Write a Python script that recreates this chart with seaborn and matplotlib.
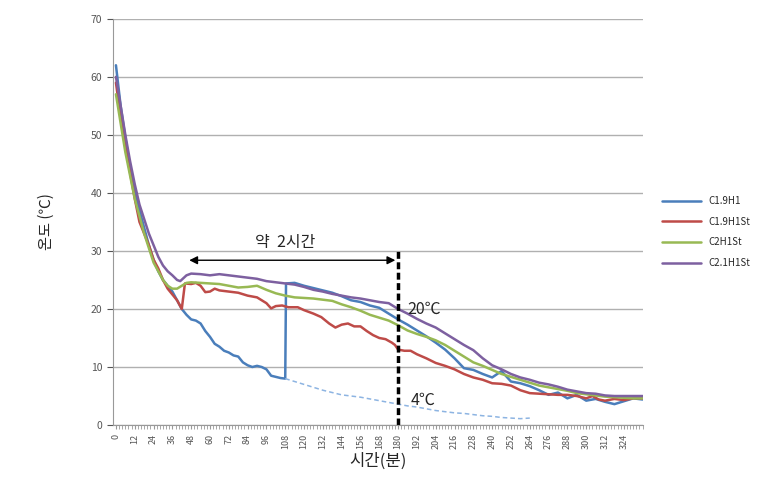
import numpy as np
import pandas as pd
import matplotlib
matplotlib.use("Agg")
import matplotlib.pyplot as plt
import seaborn as sns

# series names (legend)
names = ["C1.9H1", "C1.9H1St", "C2H1St", "C2.1H1St"]
colors = ["#4A7EBB", "#BE4B48", "#98B954", "#7D60A0"]

# C1.9H1
blue_t = [0, 3, 6, 9, 12, 15, 18, 21, 24, 27, 30, 33, 36, 39, 42, 45, 48, 51, 54, 57,
          60, 63, 66, 69, 72, 75, 78, 81, 84, 87, 90, 93, 96, 99, 102, 105, 108, 108.5,
          114, 120, 126, 132, 138, 144, 150, 156, 162, 168, 174, 180, 186, 192, 198, 204,
          210, 216, 222, 228, 234, 240, 246, 252, 258, 264, 270, 276, 282, 288, 294, 300,
          306, 312, 318, 324, 330, 336]
blue_v = [62, 55, 49.5, 44.5, 40.5, 37, 34, 31, 28.5, 26.5, 25, 24, 23, 21.5, 20, 19, 18.2, 18, 17.5, 16.2,
          15.2, 14, 13.5, 12.8, 12.5, 12, 11.8, 10.8, 10.3, 10, 10.2, 10, 9.6, 8.5, 8.3, 8.1, 8, 24.4,
          24.5, 24, 23.6, 23.2, 22.8, 22.2, 21.5, 21.2, 20.6, 20.2, 19.2, 18.2, 17.3, 16.3, 15.3, 14.2,
          13, 11.5, 9.8, 9.5, 8.8, 8.2, 9.3, 7.5, 7.2, 6.7, 6, 5.2, 5.6, 4.6, 5.2, 4.2,
          4.5, 4, 3.6, 4.1, 4.6, 4.4]

# C1.9H1St
red_t = [0, 3, 6, 9, 12, 15, 18, 21, 24, 27, 30, 33, 36, 39, 42, 44, 48, 51, 54, 57,
         60, 63, 66, 72, 78, 84, 90, 96, 99, 102, 106, 110, 116, 120, 126, 131, 136, 140,
         144, 148, 152, 156, 160, 164, 168, 172, 176, 178, 180, 184, 188, 192, 198, 204,
         210, 216, 222, 228, 234, 240, 246, 252, 258, 264, 270, 276, 282, 288, 294, 300,
         304, 308, 312, 318, 324, 330, 336]
red_v = [59, 53, 48, 43.5, 39, 35, 33, 31, 28.5, 27, 25, 23.5, 22.5, 21.5, 20, 24.4, 24.3, 24.5, 24, 22.9,
         23, 23.5, 23.2, 23, 22.8, 22.3, 22, 21, 20.1, 20.5, 20.6, 20.3, 20.3, 19.8, 19.2, 18.6, 17.5, 16.8,
         17.3, 17.5, 17, 17, 16.2, 15.5, 15, 14.8, 14.2, 13.8, 13, 12.8, 12.8, 12.2, 11.5, 10.7,
         10.2, 9.6, 8.8, 8.2, 7.8, 7.2, 7.1, 6.8, 6, 5.5, 5.4, 5.3, 5.2, 5.2, 5, 4.6,
         5, 4.4, 4.2, 4.5, 4.3, 4.6, 4.6]

# C2H1St
green_t = [0, 3, 6, 9, 12, 15, 18, 21, 24, 27, 30, 33, 36, 39, 42, 45, 48, 54, 60, 66,
           72, 78, 84, 90, 96, 102, 108, 114, 120, 126, 132, 138, 144, 150, 156, 162, 168,
           174, 180, 186, 192, 198, 204, 210, 216, 222, 228, 234, 240, 246, 252, 258, 264,
           270, 276, 282, 288, 294, 300, 306, 312, 318, 324, 330, 336]
green_v = [57, 52, 47, 43, 39, 36, 33, 30.5, 28, 26.5, 25, 24, 23.5, 23.5, 24, 24.5, 24.6, 24.5, 24.4, 24.3,
           24, 23.7, 23.8, 24, 23.3, 22.7, 22.3, 22, 21.9, 21.8, 21.6, 21.4, 20.8, 20.3, 19.7, 19, 18.5,
           18, 17.2, 16.3, 15.7, 15.2, 14.6, 13.8, 12.8, 11.8, 10.8, 10.2, 9.5, 8.8, 8.3, 7.8, 7.3,
           6.8, 6.5, 6.2, 5.9, 5.5, 5.3, 5.1, 4.9, 4.8, 4.7, 4.6, 4.6]

# C2.1H1St
purple_t = [0, 3, 6, 9, 12, 15, 18, 21, 24, 27, 30, 33, 36, 39, 41, 45, 48, 54, 60, 66,
            72, 78, 84, 90, 96, 102, 108, 114, 120, 126, 132, 138, 144, 150, 156, 162, 168,
            174, 180, 186, 192, 198, 204, 210, 216, 222, 228, 234, 240, 246, 252, 258, 264,
            270, 276, 282, 288, 294, 300, 306, 312, 318, 324, 330, 336]
purple_v = [60, 55, 50, 45.5, 41.5, 38, 35.5, 33, 31, 29, 27.5, 26.5, 25.8, 25, 24.8, 25.8, 26.1, 26, 25.8, 26,
            25.8, 25.6, 25.4, 25.2, 24.8, 24.6, 24.4, 24.2, 23.8, 23.3, 23, 22.6, 22.3, 22, 21.8, 21.5, 21.2,
            21, 20, 19.2, 18.3, 17.5, 16.8, 15.8, 14.8, 13.8, 12.9, 11.5, 10.3, 9.6, 8.8, 8.2, 7.8,
            7.3, 7, 6.6, 6.1, 5.8, 5.5, 5.4, 5.1, 5, 5, 5, 5]

# 4 degC storage branch of C1.9H1 (dashed)
cold_t = [108, 114, 120, 126, 132, 138, 144, 150, 156, 162, 168, 174, 180, 186, 192, 198,
          204, 210, 216, 222, 228, 234, 240, 246, 252, 258, 264]
cold_v = [8, 7.5, 7, 6.5, 6, 5.6, 5.2, 5, 4.8, 4.5, 4.2, 3.9, 3.6, 3.3, 3.1, 2.8,
          2.5, 2.3, 2.1, 2, 1.8, 1.6, 1.5, 1.3, 1.2, 1.1, 1.2]

x_ticks = list(range(0, 325, 12))

sns.set_style("white")
plt.rcParams['font.family'] = ['Noto Sans CJK KR', 'DejaVu Sans']

fig = plt.figure(figsize=(7.78, 4.83), dpi=100)
ax = fig.add_axes([0.145, 0.12, 0.681, 0.841])

series = [(blue_t, blue_v), (red_t, red_v), (green_t, green_v), (purple_t, purple_v)]
for (t, v), name, c in zip(series, names, colors):
    df = pd.DataFrame({"t": t, "v": v})
    sns.lineplot(data=df, x="t", y="v", color=c, lw=1.8, ax=ax, label=name,
                 sort=False, estimator=None)

cold = pd.DataFrame({"t": cold_t, "v": cold_v})
sns.lineplot(data=cold, x="t", y="v", color="#8DB4E2", lw=1.1, ls=(0, (3, 2)), ax=ax,
             sort=False, estimator=None, legend=False)

ax.set_xlim(-2, 336)
ax.set_ylim(0, 70)
ax.set_yticks(range(0, 71, 10))
ax.set_xticks(x_ticks)
ax.set_xticks(range(0, 337, 2), minor=True)
ax.set_xticklabels([str(x) for x in x_ticks], rotation=90, fontsize=6.5, color="#555555")
ax.tick_params(axis="y", labelsize=7.5, colors="#555555", length=4, direction="out", left=True)
ax.tick_params(axis="x", which="both", length=3, direction="out", bottom=True, color="#999999")
ax.yaxis.grid(True, color="#b0b0b0", lw=1)
ax.xaxis.grid(False)
for s in ["top", "right"]:
    ax.spines[s].set_visible(False)
ax.spines["left"].set_color("#999999")
ax.spines["bottom"].set_color("#999999")

ax.set_xlabel("시간(분)", fontsize=12, labelpad=2)
ax.set_ylabel("온도 (℃)", fontsize=11, labelpad=26)

# annotations
ax.annotate("", xy=(45, 28.4), xytext=(180, 28.4),
            arrowprops=dict(arrowstyle="<|-|>", color="black", lw=1, mutation_scale=12))
ax.text(108, 31.5, "약  2시간", fontsize=11.5, ha="center", va="center")
ax.plot([180, 180], [0, 30], color="black", lw=2.5, ls=(0, (2, 1)))
ax.text(186, 20, "20℃", fontsize=11.5, ha="left", va="center")
ax.text(188, 4.3, "4℃", fontsize=11.5, ha="left", va="center")

leg = ax.legend(loc="center left", bbox_to_anchor=(1.02, 0.475), frameon=False,
                fontsize=7, handlelength=4, labelspacing=1.1)

fig.savefig("out.png", dpi=100)
